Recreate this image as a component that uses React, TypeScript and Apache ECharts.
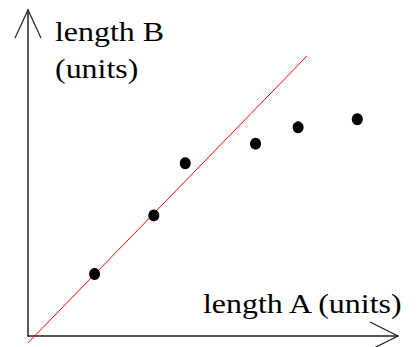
import React, { useEffect, useRef } from "react";
import * as echarts from "echarts";

// Measured pairs (length A, length B)
const lengthA = [1.8, 3.4, 4.25, 6.15, 7.3, 8.9];
const lengthB = [1.9, 3.7, 5.3, 5.9, 6.4, 6.65];

// Reference line through the lower measurements
const refLineA = [0, 7.54];
const refLineB = [-0.21, 8.59];

const xLabel = "length A (units)";
const yLabel = ["length B", "(units)"];

export default function App() {
  const ref = useRef<HTMLDivElement>(null);

  useEffect(() => {
    if (!ref.current) return;
    const chart = echarts.init(ref.current, null, { renderer: "svg" });
    const font = '28px "Liberation Serif", "Times New Roman", serif';
    const stretch = 1.14;
    chart.setOption({
      animation: false,
      backgroundColor: "#ffffff",
      grid: { left: 28, right: 20, top: 10, bottom: 11 },
      xAxis: {
        type: "value",
        min: 0,
        max: 10,
        axisLine: { show: true, onZero: false, lineStyle: { color: "#222", width: 1.5 } },
        axisTick: { show: false },
        axisLabel: { show: false },
        splitLine: { show: false },
      },
      yAxis: {
        type: "value",
        min: 0,
        max: 10,
        axisLine: { show: true, onZero: false, lineStyle: { color: "#222", width: 1.5 } },
        axisTick: { show: false },
        axisLabel: { show: false },
        splitLine: { show: false },
      },
      series: [
        {
          type: "line",
          data: refLineA.map((a, i) => [a, refLineB[i]]),
          clip: false,
          showSymbol: false,
          symbol: "none",
          lineStyle: { color: "#ff0000", width: 1 },
          z: 2,
        },
        {
          type: "scatter",
          data: lengthA.map((a, i) => [a, lengthB[i]]),
          symbol: "circle",
          symbolSize: [11, 12],
          itemStyle: { color: "#000000", opacity: 1 },
          z: 3,
        },
      ],
      graphic: [
        {
          type: "polyline",
          shape: { points: [[15, 38], [28, 10], [41, 38]] },
          style: { stroke: "#222", lineWidth: 1.2, fill: "none" },
        },
        {
          type: "polyline",
          shape: { points: [[370, 322], [398, 336], [372, 349]] },
          style: { stroke: "#222", lineWidth: 1.2, fill: "none" },
        },
        {
          type: "text",
          x: 55,
          y: 17,
          scaleX: stretch,
          style: { text: yLabel[0], font, fill: "#000", verticalAlign: "top" },
        },
        {
          type: "text",
          x: 55,
          y: 54,
          scaleX: stretch,
          style: { text: yLabel[1], font, fill: "#000", verticalAlign: "top" },
        },
        {
          type: "text",
          x: 203,
          y: 289,
          scaleX: stretch,
          style: { text: xLabel, font, fill: "#000", verticalAlign: "top" },
        },
      ],
    });
    return () => chart.dispose();
  }, []);

  return (
    <div
      ref={ref}
      style={{ position: "fixed", left: 0, top: 0, width: 418, height: 347 }}
    />
  );
}
